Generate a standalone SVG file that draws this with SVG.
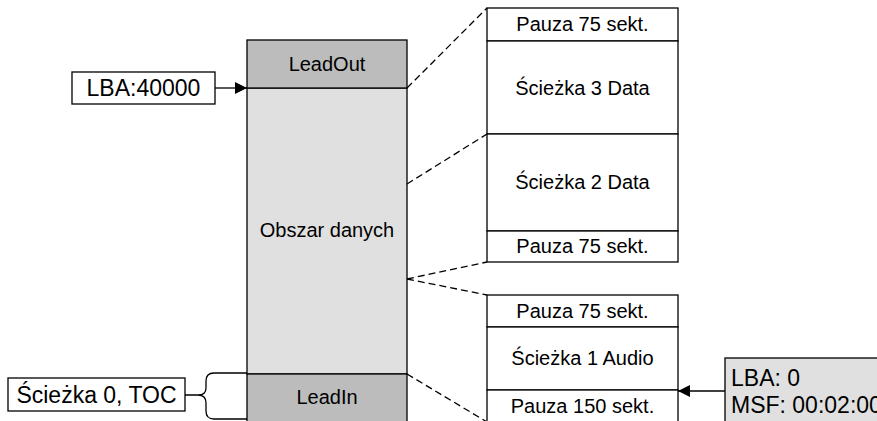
<svg xmlns="http://www.w3.org/2000/svg" width="877" height="421" viewBox="0 0 877 421">
<defs>
<style>
text{font-family:"Liberation Sans",Arial,sans-serif;font-size:20px;fill:#000}
.c{text-anchor:middle}
.big{font-size:23px}
.box{fill:#fff;stroke:#000;stroke-width:1.3}
.light{fill:#e0e0e0;stroke:#000;stroke-width:1.3}
.dark{fill:#bcbcbc;stroke:#000;stroke-width:1.3}
.ln{stroke:#000;stroke-width:1.3;fill:none}
.dash{stroke:#000;stroke-width:1.3;fill:none;stroke-dasharray:7 4}
</style>
<marker id="ah" markerWidth="12" markerHeight="12" refX="12" refY="6" orient="auto" markerUnits="userSpaceOnUse">
<path d="M0,0 L12,6 L0,12 Z" fill="#000"/>
</marker>
</defs>
<rect width="877" height="421" fill="#fff"/>

<g id="main-column">
<rect class="light" x="247" y="88" width="160" height="286"/>
<text class="c" x="327" y="237">Obszar danych</text>
</g>
<g id="leadout">
<rect class="dark" x="247" y="40" width="160" height="48"/>
<text class="c" x="327" y="71">LeadOut</text>
</g>
<g id="leadin">
<rect class="dark" x="247" y="374" width="160" height="60"/>
<text class="c" x="327" y="404">LeadIn</text>
</g>

<g id="lba40000">
<rect class="box" x="72" y="72" width="143" height="32"/>
<text class="c big" x="143.5" y="96">LBA:40000</text>
</g>
<g id="toc">
<rect class="box" x="8" y="378" width="177" height="33"/>
<text class="c big" x="96.5" y="403">Ścieżka 0, TOC</text>
</g>

<g id="track3">
<rect class="box" x="487" y="8" width="191" height="33"/>
<text class="c" x="582.5" y="31">Pauza 75 sekt.</text>
<rect class="box" x="487" y="41" width="191" height="93"/>
<text class="c" x="582.5" y="95">Ścieżka 3 Data</text>
</g>
<g id="track2">
<rect class="box" x="487" y="134" width="191" height="97"/>
<text class="c" x="582.5" y="189">Ścieżka 2 Data</text>
<rect class="box" x="487" y="231" width="191" height="31"/>
<text class="c" x="582.5" y="253">Pauza 75 sekt.</text>
</g>
<g id="track1">
<rect class="box" x="487" y="295" width="191" height="32"/>
<text class="c" x="582.5" y="318">Pauza 75 sekt.</text>
<rect class="box" x="487" y="327" width="191" height="63"/>
<text class="c" x="582.5" y="365">Ścieżka 1 Audio</text>
<rect class="box" x="487" y="390" width="191" height="40"/>
<text class="c" x="582.5" y="413">Pauza 150 sekt.</text>
</g>
<g id="lba0">
<rect class="light" x="725" y="358" width="170" height="80"/>
<text class="big" x="731" y="386">LBA: 0</text>
<text class="big" x="731" y="413">MSF: 00:02:00</text>
</g>

<g id="connectors">
<line class="ln" x1="215" y1="88" x2="247" y2="88" marker-end="url(#ah)"/>
<line class="ln" x1="725" y1="391" x2="678" y2="391" marker-end="url(#ah)"/>
<path class="ln" d="M247,373 H214 Q206,373 206,381 V388 Q206,395 198,395 H185 M198,395 Q206,395 206,403 V411 Q206,419 214,419 H247"/>
<line class="dash" x1="407" y1="88" x2="487" y2="8"/>
<line class="dash" x1="407" y1="184" x2="487" y2="134"/>
<line class="dash" x1="407" y1="279" x2="487" y2="262"/>
<line class="dash" x1="407" y1="279" x2="487" y2="295"/>
<line class="dash" x1="407" y1="374" x2="487" y2="422"/>
</g>
</svg>
